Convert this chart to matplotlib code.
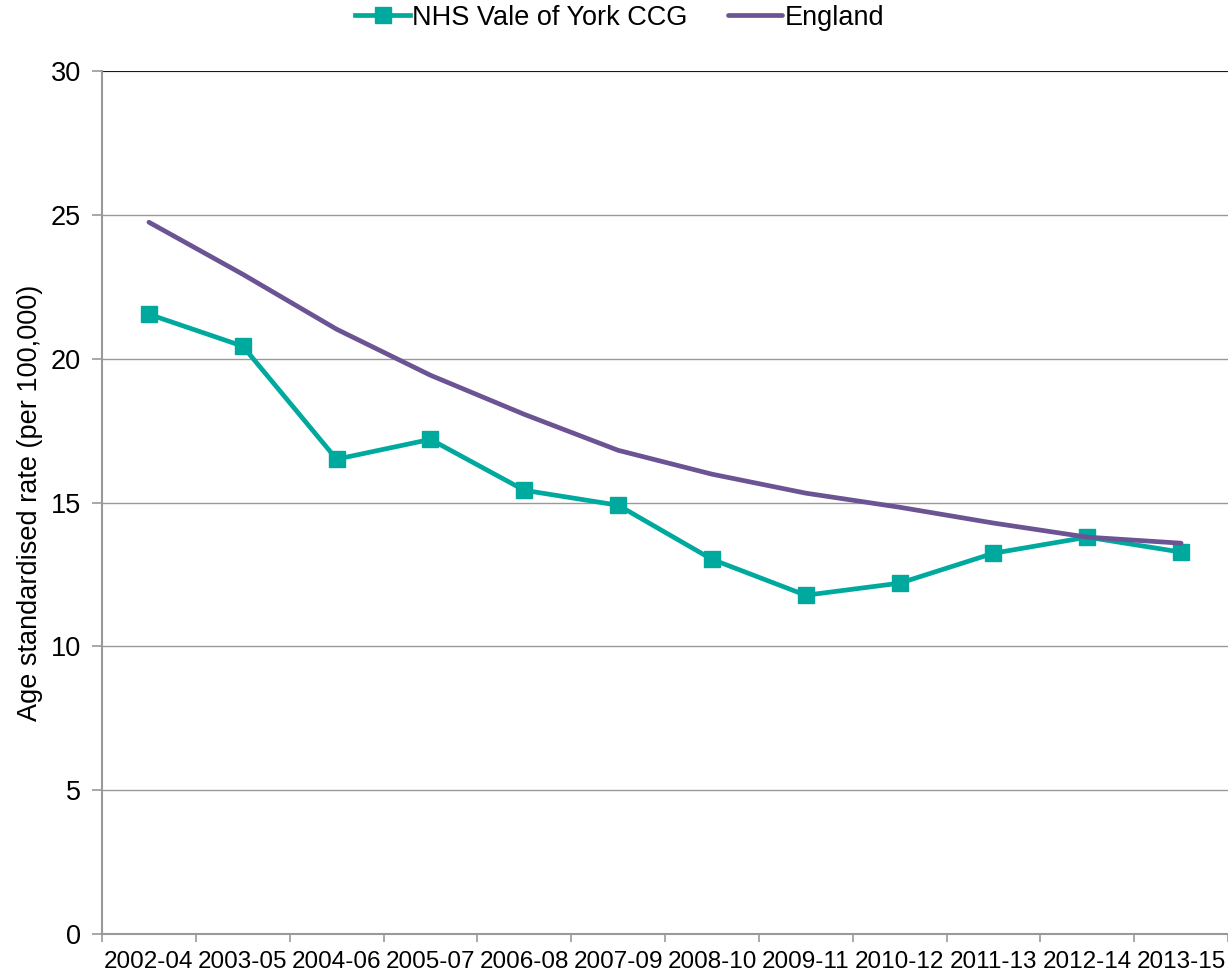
import numpy as np
import matplotlib.pyplot as plt

periods = ['2002-04', '2003-05', '2004-06', '2005-07', '2006-08', '2007-09',
           '2008-10', '2009-11', '2010-12', '2011-13', '2012-14', '2013-15']
vale_of_york = [21.55, 20.44, 16.51, 17.20, 15.43, 14.91,
                13.03, 11.78, 12.20, 13.24, 13.80, 13.28]
england = [24.75, 22.94, 21.03, 19.43, 18.07, 16.82,
           15.99, 15.33, 14.84, 14.29, 13.80, 13.59]

plt.rcParams['font.family'] = ['Liberation Sans', 'DejaVu Sans']

fig = plt.figure(figsize=(12.28, 9.76), dpi=100)
ax = fig.add_axes([0.0831, 0.043, 0.9169, 0.884])

x = np.arange(len(periods))
ax.plot(x, vale_of_york, color='#00A99D', lw=3.4, marker='s', ms=11,
        label='NHS Vale of York CCG')
ax.plot(x, england, color='#6B5394', lw=3.4, label='England',
        solid_capstyle='round')

ax.set_xlim(-0.5, len(periods) - 0.5)
ax.set_ylim(0, 30)
ax.set_yticks(range(0, 31, 5))
ax.yaxis.grid(True, color='#999999', lw=1)
ax.set_axisbelow(True)
ax.axhline(30, color='black', lw=1.2)

ax.set_xticks(x)
ax.set_xticklabels(periods, fontsize=17.5)
ax.set_xticks(np.arange(-0.5, len(periods)), minor=True)
ax.tick_params(axis='x', which='major', length=0, pad=12)
ax.tick_params(axis='x', which='minor', length=6, color='#999999', width=1.2)
ax.tick_params(axis='y', labelsize=19.5, length=7, color='#999999', width=1.2, pad=8)

for side in ['top', 'right']:
    ax.spines[side].set_visible(False)
for side in ['left', 'bottom']:
    ax.spines[side].set_color('#999999')
    ax.spines[side].set_linewidth(1.5)

ax.set_ylabel('Age standardised rate (per 100,000)', fontsize=19.5, labelpad=6)

fig.legend(*ax.get_legend_handles_labels(), loc='upper center',
           bbox_to_anchor=(0.505, 1.006), ncol=2, frameon=False,
           fontsize=19.5, handlelength=2.0, handletextpad=0.1, columnspacing=1.5,
           borderaxespad=0.0)

fig.savefig('out.png', dpi=100)
